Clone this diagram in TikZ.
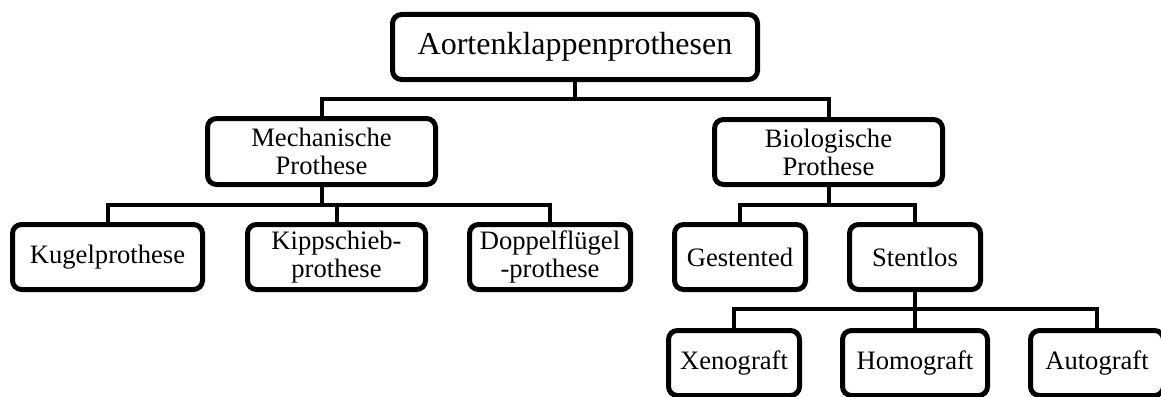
\documentclass[tikz,border=0pt]{standalone}
\usepackage{fontspec}
\setmainfont{Liberation Serif}
\begin{document}
\begin{tikzpicture}[x=1pt,y=-1pt,
  box/.style={draw=black, fill=white, line width=5pt, rounded corners=9pt, align=center,
    inner sep=0pt, minimum height=65pt, font=\fontsize{26.6}{28}\selectfont},
  conn/.style={draw=black, line width=4pt}]
\useasboundingbox (0,0) rectangle (1161,396);
\fill[white] (0,0) rectangle (1161,396);
\clip (0,0) rectangle (1161,396);
% nodes
\node[box, minimum width=365pt, font=\fontsize{32}{36}\selectfont] (top) at (575,47) {Aortenklappenprothesen};
\node[box, minimum width=228pt, minimum height=66pt] (mech) at (321.5,151.5) {Mechanische\\Prothese};
\node[box, minimum width=228pt] (bio) at (828.5,152) {Biologische\\Prothese};
\node[box, minimum width=190pt] (kugel) at (107.5,257) {Kugelprothese};
\node[box, minimum width=178pt] (kipp) at (336.5,257) {Kippschieb-\\prothese};
\node[box, minimum width=161pt] (doppel) at (550,257) {Doppelflügel\\-prothese};
\node[box, minimum width=131pt] (gest) at (740,257) {Gestented};
\node[box, minimum width=131pt] (stent) at (915,257) {Stentlos};
\node[box, minimum width=131pt] (xeno) at (734,363) {Xenograft};
\node[box, minimum width=145pt] (homo) at (915,363) {Homograft};
\node[box, minimum width=133pt] (auto) at (1097,363) {Autograft};
% connectors
\draw[conn] (top.south) -- ++(0,17) coordinate (b0) -| (mech.north);
\draw[conn] (b0) -| (bio.north);
\draw[conn] (mech.south) -- ++(0,18) coordinate (b1) -| (kugel.north);
\draw[conn] (b1) -| (kipp.north);
\draw[conn] (b1) -| (doppel.north);
\draw[conn] (bio.south) -- ++(0,18) coordinate (b2) -| (gest.north);
\draw[conn] (b2) -| (stent.north);
\draw[conn] (stent.south) -- ++(0,17) coordinate (b3) -| (xeno.north);
\draw[conn] (b3) -| (homo.north);
\draw[conn] (b3) -| (auto.north);
\end{tikzpicture}
\end{document}
